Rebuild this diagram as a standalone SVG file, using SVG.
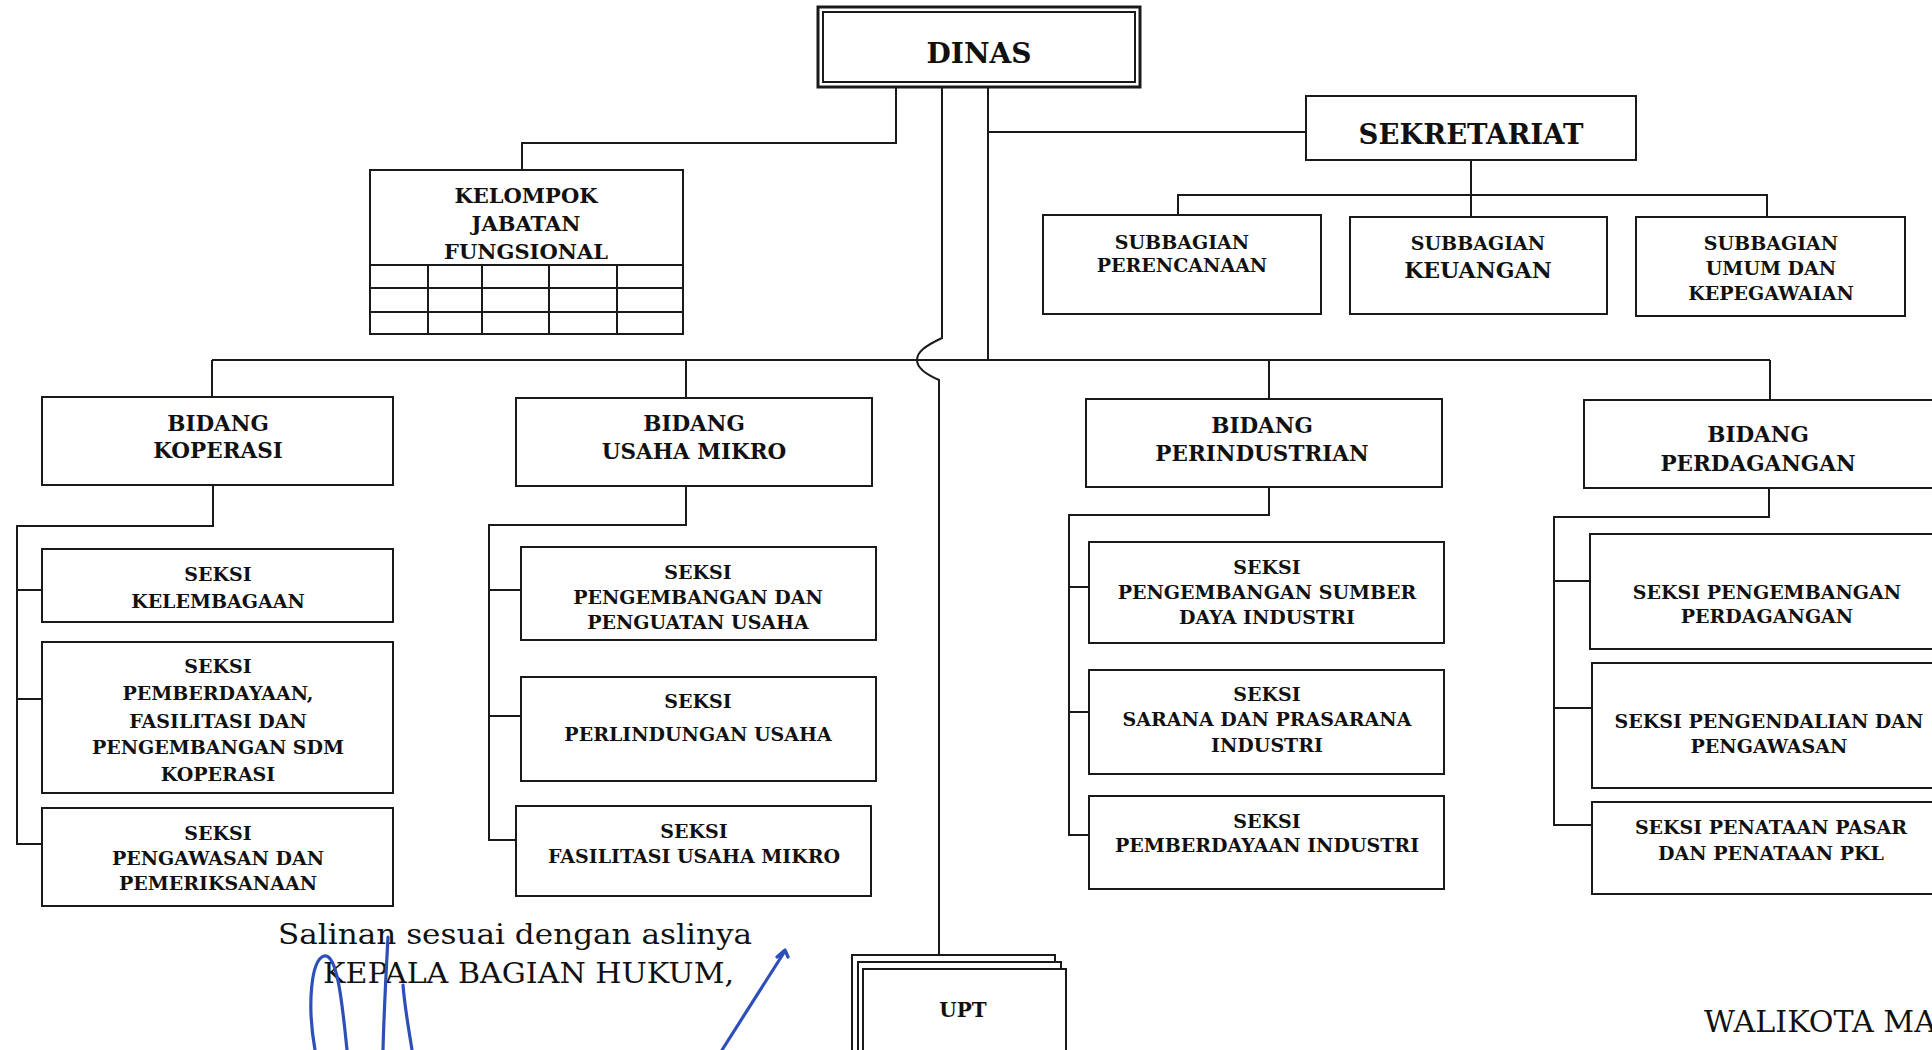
<svg xmlns="http://www.w3.org/2000/svg" width="1932" height="1050" viewBox="0 0 1932 1050">
<style>
rect.b { fill: #fff; stroke: #1a1a1a; stroke-width: 2; }
.ln { fill: none; stroke: #1a1a1a; stroke-width: 2; }
text { font-family: "DejaVu Serif", serif; fill: #111; }
.t { font-weight: bold; text-anchor: middle; font-size: 19px; }
.tb { font-weight: bold; text-anchor: middle; font-size: 21.5px; }
.plain { font-weight: normal; }
.sig { fill: none; stroke: #2d50b8; stroke-width: 3.2; stroke-linecap: round; stroke-linejoin: round; }
</style>
<rect width="1932" height="1050" fill="#fff"/>

<g id="connectors">
  <path class="ln" d="M896,87 V143 H522 V170"/>
  <path class="ln" d="M942,87 V338 C925,346 917,352 917,360 C917,368 925,374 939,380 V956"/>
  <path class="ln" d="M988,87 V360"/>
  <path class="ln" d="M988,132 H1306"/>
  <path class="ln" d="M1471,160 V217"/>
  <path class="ln" d="M1178,215 V195 H1767 V217"/>
  <path class="ln" d="M212,360 H1770"/>
  <path class="ln" d="M212,360 V397"/>
  <path class="ln" d="M686,360 V398"/>
  <path class="ln" d="M1269,360 V399"/>
  <path class="ln" d="M1770,360 V400"/>
  <path class="ln" d="M213,485 V526 H17 V844 H42 M17,590 H42 M17,699 H42"/>
  <path class="ln" d="M686,486 V525 H489 V840 H516 M489,590 H521 M489,716 H521"/>
  <path class="ln" d="M1269,487 V515 H1069 V835 H1089 M1069,587 H1089 M1069,712 H1089"/>
  <path class="ln" d="M1769,487 V517 H1554 V825 H1592 M1554,581 H1590 M1554,708 H1592"/>
</g>

<g id="dinas">
  <rect x="818" y="7" width="322" height="80" fill="#fff" stroke="#1a1a1a" stroke-width="3"/>
  <rect x="823" y="12" width="312" height="70" fill="none" stroke="#1a1a1a" stroke-width="2"/>
  <text class="t" x="979" y="63" style="font-size:28px">DINAS</text>
</g>

<g id="sekretariat">
  <rect class="b" x="1306" y="96" width="330" height="64"/>
  <text class="t" x="1471" y="144" style="font-size:27.5px">SEKRETARIAT</text>
</g>

<g id="kelompok-jabatan-fungsional">
  <rect class="b" x="370" y="170" width="313" height="164"/>
  <path class="ln" d="M370,265 H683 M370,288 H683 M370,312 H683 M428,265 V334 M482,265 V334 M549,265 V334 M617,265 V334"/>
  <text class="t" x="526" y="203" style="font-size:21px">KELOMPOK</text>
  <text class="t" x="526" y="231" style="font-size:21px">JABATAN</text>
  <text class="t" x="526" y="259" style="font-size:21px">FUNGSIONAL</text>
</g>

<g id="subbagian-perencanaan">
  <rect class="b" x="1043" y="215" width="278" height="99"/>
  <text class="t" x="1182" y="249">SUBBAGIAN</text>
  <text class="t" x="1182" y="272">PERENCANAAN</text>
</g>
<g id="subbagian-keuangan">
  <rect class="b" x="1350" y="217" width="257" height="97"/>
  <text class="t" x="1478" y="250">SUBBAGIAN</text>
  <text class="t" x="1478" y="278" style="font-size:22px">KEUANGAN</text>
</g>
<g id="subbagian-umum">
  <rect class="b" x="1636" y="217" width="269" height="99"/>
  <text class="t" x="1771" y="250">SUBBAGIAN</text>
  <text class="t" x="1771" y="275">UMUM DAN</text>
  <text class="t" x="1771" y="300">KEPEGAWAIAN</text>
</g>

<g id="bidang-koperasi">
  <rect class="b" x="42" y="397" width="351" height="88"/>
  <text class="tb" x="218" y="431">BIDANG</text>
  <text class="tb" x="218" y="458">KOPERASI</text>
</g>
<g id="seksi-kelembagaan">
  <rect class="b" x="42" y="549" width="351" height="73"/>
  <text class="t" x="218" y="581">SEKSI</text>
  <text class="t" x="218" y="608">KELEMBAGAAN</text>
</g>
<g id="seksi-pemberdayaan-koperasi">
  <rect class="b" x="42" y="642" width="351" height="151"/>
  <text class="t" x="218" y="673">SEKSI</text>
  <text class="t" x="218" y="700">PEMBERDAYAAN,</text>
  <text class="t" x="218" y="728">FASILITASI DAN</text>
  <text class="t" x="218" y="754">PENGEMBANGAN SDM</text>
  <text class="t" x="218" y="781">KOPERASI</text>
</g>
<g id="seksi-pengawasan-pemeriksanaan">
  <rect class="b" x="42" y="808" width="351" height="98"/>
  <text class="t" x="218" y="840">SEKSI</text>
  <text class="t" x="218" y="865">PENGAWASAN DAN</text>
  <text class="t" x="218" y="890">PEMERIKSANAAN</text>
</g>

<g id="bidang-usaha-mikro">
  <rect class="b" x="516" y="398" width="356" height="88"/>
  <text class="tb" x="694" y="431">BIDANG</text>
  <text class="tb" x="694" y="459">USAHA MIKRO</text>
</g>
<g id="seksi-pengembangan-penguatan-usaha">
  <rect class="b" x="521" y="547" width="355" height="93"/>
  <text class="t" x="698" y="579">SEKSI</text>
  <text class="t" x="698" y="604">PENGEMBANGAN DAN</text>
  <text class="t" x="698" y="629">PENGUATAN USAHA</text>
</g>
<g id="seksi-perlindungan-usaha">
  <rect class="b" x="521" y="677" width="355" height="104"/>
  <text class="t" x="698" y="708">SEKSI</text>
  <text class="t" x="698" y="741">PERLINDUNGAN USAHA</text>
</g>
<g id="seksi-fasilitasi-usaha-mikro">
  <rect class="b" x="516" y="806" width="355" height="90"/>
  <text class="t" x="694" y="838">SEKSI</text>
  <text class="t" x="694" y="863">FASILITASI USAHA MIKRO</text>
</g>

<g id="bidang-perindustrian">
  <rect class="b" x="1086" y="399" width="356" height="88"/>
  <text class="tb" x="1262" y="433">BIDANG</text>
  <text class="tb" x="1262" y="461">PERINDUSTRIAN</text>
</g>
<g id="seksi-pengembangan-sdi">
  <rect class="b" x="1089" y="542" width="355" height="101"/>
  <text class="t" x="1267" y="574">SEKSI</text>
  <text class="t" x="1267" y="599">PENGEMBANGAN SUMBER</text>
  <text class="t" x="1267" y="624">DAYA INDUSTRI</text>
</g>
<g id="seksi-sarana-prasarana">
  <rect class="b" x="1089" y="670" width="355" height="104"/>
  <text class="t" x="1267" y="701">SEKSI</text>
  <text class="t" x="1267" y="726">SARANA DAN PRASARANA</text>
  <text class="t" x="1267" y="752">INDUSTRI</text>
</g>
<g id="seksi-pemberdayaan-industri">
  <rect class="b" x="1089" y="796" width="355" height="93"/>
  <text class="t" x="1267" y="828">SEKSI</text>
  <text class="t" x="1267" y="852">PEMBERDAYAAN INDUSTRI</text>
</g>

<g id="bidang-perdagangan">
  <rect class="b" x="1584" y="400" width="400" height="88"/>
  <text class="tb" x="1758" y="442">BIDANG</text>
  <text class="tb" x="1758" y="471">PERDAGANGAN</text>
</g>
<g id="seksi-pengembangan-perdagangan">
  <rect class="b" x="1590" y="534" width="400" height="115"/>
  <text class="t" x="1767" y="599">SEKSI PENGEMBANGAN</text>
  <text class="t" x="1767" y="623">PERDAGANGAN</text>
</g>
<g id="seksi-pengendalian-pengawasan">
  <rect class="b" x="1592" y="663" width="400" height="125"/>
  <text class="t" x="1769" y="728">SEKSI PENGENDALIAN DAN</text>
  <text class="t" x="1769" y="753">PENGAWASAN</text>
</g>
<g id="seksi-penataan-pasar-pkl">
  <rect class="b" x="1592" y="802" width="400" height="92"/>
  <text class="t" x="1771" y="834">SEKSI PENATAAN PASAR</text>
  <text class="t" x="1771" y="860">DAN PENATAAN PKL</text>
</g>

<g id="upt">
  <rect class="b" x="852" y="955" width="203" height="110"/>
  <rect class="b" x="858" y="962" width="203" height="110"/>
  <rect class="b" x="863" y="969" width="203" height="110"/>
  <text class="t" x="963" y="1017" style="font-size:20px">UPT</text>
</g>

<g id="signature-block">
  <text class="plain" x="278" y="944" font-size="28" textLength="474" lengthAdjust="spacingAndGlyphs">Salinan sesuai dengan aslinya</text>
  <text class="plain" x="323" y="983" font-size="28" textLength="411" lengthAdjust="spacingAndGlyphs">KEPALA BAGIAN HUKUM,</text>
  <text class="plain" x="1704" y="1032" font-size="30" textLength="232" lengthAdjust="spacingAndGlyphs">WALIKOTA MA</text>
  <path class="sig" d="M315,1050 C307,1005 311,960 324,956 C337,953 342,1000 347,1050"/>
  <path class="sig" d="M388,937 C386,975 384,1010 383,1050"/>
  <path class="sig" d="M403,985 C405,1010 409,1030 412,1050"/>
  <path class="sig" d="M777,957 L785,950 L788,957 M785,951 L722,1050"/>
</g>
</svg>
